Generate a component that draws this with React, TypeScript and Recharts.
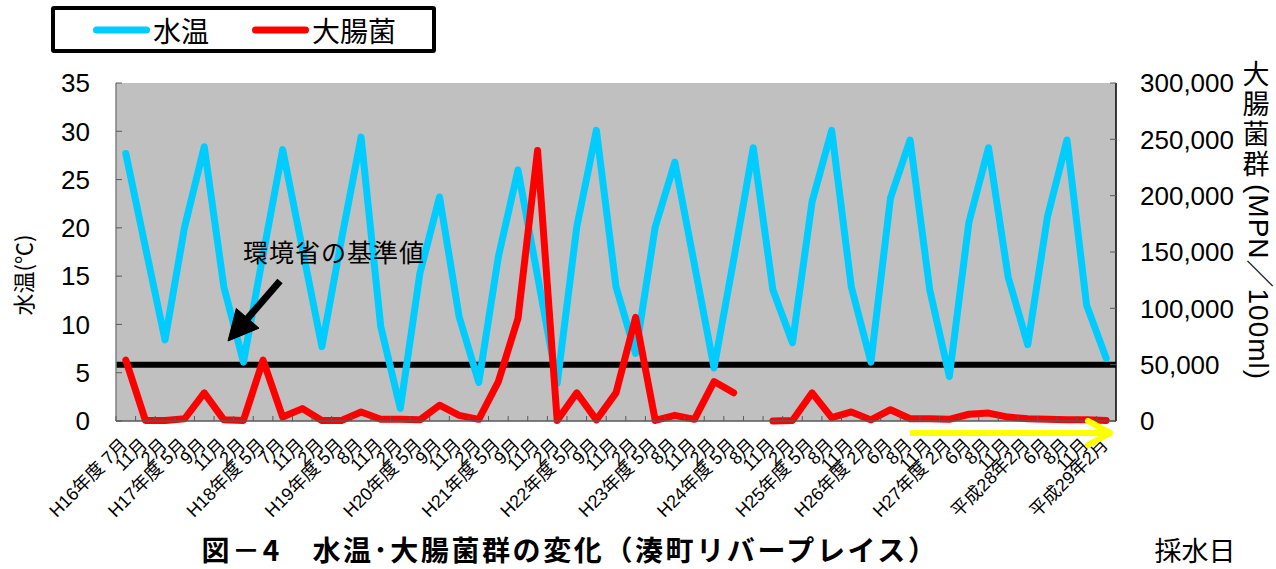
import React from 'react';
import {
  LineChart,
  Line,
  XAxis,
  YAxis,
  CartesianGrid,
  ReferenceLine,
  Legend,
} from 'recharts';

// ---------------- data ----------------
const categories: string[] = [
  'H16年度 7月', '11月', '2月',
  'H17年度 5月', '9月', '11月', '2月',
  'H18年度 5月', '7月', '11月', '2月',
  'H19年度 5月', '8月', '11月', '2月',
  'H20年度 5月', '9月', '11月', '2月',
  'H21年度 5月', '9月', '11月', '2月',
  'H22年度 5月', '9月', '11月', '2月',
  'H23年度 5月', '8月', '11月', '2月',
  'H24年度 5月', '8月', '11月', '2月',
  'H25年度 5月', '8月', '11月',
  'H26年度 2月', '6月', '8月', '11月',
  'H27年度 2月', '6月', '8月', '11月',
  '平成28年2月', '6月', '8月', '11月',
  '平成29年2月',
];

// 水温 (°C)
const waterTemp: number[] = [
  27.7, 18.0, 8.4,
  20.1, 28.4, 13.9, 6.1,
  17.2, 28.1, 17.9, 7.7,
  18.8, 29.4, 9.8, 1.3,
  15.3, 23.2, 10.8, 4.0,
  17.0, 26.0, 15.0, 3.9,
  20.1, 30.1, 13.9, 7.0,
  20.1, 26.8, 16.2, 5.5,
  16.7, 28.3, 13.6, 8.1,
  22.7, 30.1, 13.9,
  6.1, 23.1, 29.1, 13.6,
  4.6, 20.6, 28.3, 14.9,
  7.9, 21.1, 29.1, 12.0,
  6.5,
];

// 大腸菌群 (MPN/100ml)
const coliform: (number | null)[] = [
  54000, 500, 500,
  2000, 25000, 1000, 500,
  54000, 3500, 11000, 500,
  500, 8000, 1500, 1500,
  1000, 14000, 5000, 1500,
  35000, 91000, 240000, 500,
  25000, 1000, 25000, 92000,
  500, 5000, 1500, 35000,
  25000, null, 0, 500,
  25000, 3000, 8000,
  1000, 10000, 2000, 2000,
  1500, 6000, 7000, 3500,
  2000, 1500, 1000, 1000,
  500,
];

const leftTicks: number[] = [0, 5, 10, 15, 20, 25, 30, 35];
const rightTicks: number[] = [0, 50000, 100000, 150000, 200000, 250000, 300000];
const standardValue = 50000; // 環境省の基準値

const seriesOrder = ['temp', 'coli'];
const seriesNames = { temp: '水温', coli: '大腸菌' };

// ---------------- layout ----------------
const W = 1276;
const H = 569;
const PLOT = { left: 116, right: 1116, top: 83, bottom: 421 };
const LEFT_AXIS_W = 80;
const RIGHT_AXIS_W = 140;
const X_AXIS_H = 100;
const margin = {
  top: PLOT.top,
  left: PLOT.left - LEFT_AXIS_W,
  right: W - PLOT.right - RIGHT_AXIS_W,
  bottom: H - PLOT.bottom - X_AXIS_H,
};
const BAND = (PLOT.right - PLOT.left) / categories.length;

const JP = "'Noto Sans CJK JP', sans-serif";
const NUM = "'Liberation Sans', Arial, 'Noto Sans CJK JP', sans-serif";

const data = categories.map((label, i) => ({
  idx: String(i),
  label,
  temp: waterTemp[i],
  coli: coliform[i],
}));

const XTick = (props: any) => {
  const { x, payload } = props;
  const i = Number(payload.value);
  const label = categories[i];
  const bx = x - BAND / 2;
  return (
    <g>
      <line x1={bx} y1={PLOT.bottom} x2={bx} y2={PLOT.bottom - 5} stroke="#595959" strokeWidth={1} />
      <text
        transform={`translate(${x + 3},${PLOT.bottom + 25}) rotate(-45)`}
        textAnchor="end"
        fontSize={18}
        fontFamily={NUM}
        fill="#000"
      >
        {label}
      </text>
    </g>
  );
};

const LegendContent = (props: any) => {
  const payload = [...(props.payload || [])].sort(
    (a: any, b: any) => seriesOrder.indexOf(a.dataKey) - seriesOrder.indexOf(b.dataKey)
  );
  return (
    <div
      style={{
        boxSizing: 'border-box',
        width: 385,
        height: 47,
        border: '4px solid #000',
        borderRadius: 3,
        background: '#fff',
        display: 'flex',
        alignItems: 'center',
        fontFamily: JP,
        fontSize: 28,
        color: '#000',
        lineHeight: 1,
      }}
    >
      {payload.map((entry: any, i: number) => (
        <div key={i} style={{ display: 'flex', alignItems: 'center', marginLeft: i === 0 ? 34 : 39 }}>
          <svg width={64} height={12} style={{ display: 'block' }}>
            <line x1={7.5} y1={6} x2={57.5} y2={6} stroke={entry.color} strokeWidth={7} strokeLinecap="round" />
          </svg>
          <span>{entry.value}</span>
        </div>
      ))}
    </div>
  );
};

const Annotations = () => {
  // black arrow toward the standard line
  const tip = { x: 228, y: 341 };
  const tail = { x: 280, y: 281 };
  const dx = tip.x - tail.x;
  const dy = tip.y - tail.y;
  const len = Math.sqrt(dx * dx + dy * dy);
  const ux = dx / len;
  const uy = dy / len;
  const headLen = 30;
  const headHalf = 15;
  const bx = tip.x - ux * headLen;
  const by = tip.y - uy * headLen;
  const px = -uy;
  const py = ux;
  const c1 = `${bx + px * headHalf},${by + py * headHalf}`;
  const c2 = `${bx - px * headHalf},${by - py * headHalf}`;

  const yArrowY = 433;
  return (
    <svg
      width={W}
      height={H}
      style={{ position: 'absolute', left: 0, top: 0, pointerEvents: 'none' }}
    >
      {/* left axis title */}
      <text
        transform="translate(22,275) rotate(-90)"
        textAnchor="middle"
        dominantBaseline="central"
        fontSize={22}
        fontFamily={JP}
        fill="#000"
      >
        水温(℃)
      </text>
      {/* right axis title (vertical) */}
      <text
        x={1256}
        y={60}
        style={{ writingMode: 'vertical-rl' } as any}
        fontSize={27}
        letterSpacing={3}
        fontFamily={JP}
        fill="#000"
      >
        大腸菌群
      </text>
      <text
        transform="translate(1258,184) rotate(90)"
        textAnchor="start"
        dominantBaseline="central"
        fontSize={28}
        letterSpacing={1}
        fontFamily={NUM}
        fill="#000"
      >
        (MPN／100ml)
      </text>
      {/* annotation */}
      <text x={243} y={251} dominantBaseline="central" fontSize={25} letterSpacing={1} fontFamily={JP} fill="#000">
        環境省の基準値
      </text>
      <line x1={tail.x} y1={tail.y} x2={bx + ux * 2} y2={by + uy * 2} stroke="#000" strokeWidth={7} />
      <polygon points={`${tip.x},${tip.y} ${c1} ${c2}`} fill="#000" stroke="#000" strokeWidth={1} />
      {/* yellow arrow */}
      <line x1={910} y1={yArrowY} x2={1110} y2={yArrowY} stroke="#FFFF00" strokeWidth={6} />
      <line x1={1110} y1={yArrowY} x2={1088} y2={yArrowY - 12} stroke="#FFFF00" strokeWidth={6} strokeLinecap="round" />
      <line x1={1110} y1={yArrowY} x2={1088} y2={yArrowY + 12} stroke="#FFFF00" strokeWidth={6} strokeLinecap="round" />
      {/* title */}
      <text
        x={570}
        y={549}
        textAnchor="middle"
        dominantBaseline="central"
        fontSize={28}
        fontWeight="bold"
        letterSpacing={2.6}
        fontFamily={JP}
        fill="#000"
      >
        図－4　水温･大腸菌群の変化（湊町リバープレイス）
      </text>
      <text x={1195} y={549} textAnchor="middle" dominantBaseline="central" fontSize={27} fontFamily={JP} fill="#000">
        採水日
      </text>
    </svg>
  );
};

export default function App() {
  return (
    <div style={{ position: 'absolute', left: 0, top: 0, width: W, height: H, background: '#fff' }}>
      <LineChart width={W} height={H} data={data} margin={margin}>
        <CartesianGrid yAxisId="left" fill="#C0C0C0" fillOpacity={1} horizontal={false} vertical={false} />
        <XAxis
          dataKey="idx"
          type="category"
          interval={0}
          height={X_AXIS_H}
          padding={{ left: BAND / 2, right: BAND / 2 }}
          tick={<XTick />}
          tickLine={false}
          axisLine={{ stroke: '#595959', strokeWidth: 1.5 }}
        />
        <YAxis
          yAxisId="left"
          orientation="left"
          width={LEFT_AXIS_W}
          domain={[0, 35]}
          ticks={leftTicks}
          interval={0}
          tickSize={-6}
          tickMargin={32}
          axisLine={{ stroke: '#808080', strokeWidth: 1.5 }}
          tickLine={{ stroke: '#595959' }}
          tick={{ fontSize: 26, fill: '#000', fontFamily: NUM }}
        />
        <YAxis
          yAxisId="right"
          orientation="right"
          width={RIGHT_AXIS_W}
          domain={[0, 300000]}
          ticks={rightTicks}
          interval={0}
          tickSize={-6}
          tickMargin={30}
          axisLine={{ stroke: '#000', strokeWidth: 1.5 }}
          tickLine={{ stroke: '#595959' }}
          tick={{ fontSize: 26, fill: '#000', fontFamily: NUM, textAnchor: 'start' }}
          tickFormatter={(v: number) => v.toLocaleString('en-US')}
        />
        <ReferenceLine yAxisId="right" y={standardValue} stroke="#000" strokeWidth={6} />
        <Line
          yAxisId="left"
          type="linear"
          dataKey="temp"
          name={seriesNames.temp}
          stroke="#00CCFF"
          strokeWidth={7}
          strokeLinejoin="round"
          strokeLinecap="round"
          dot={false}
          activeDot={false}
          isAnimationActive={false}
        />
        <Line
          yAxisId="right"
          type="linear"
          dataKey="coli"
          name={seriesNames.coli}
          stroke="#FF0000"
          strokeWidth={7}
          strokeLinejoin="round"
          strokeLinecap="round"
          dot={false}
          activeDot={false}
          connectNulls={false}
          isAnimationActive={false}
        />
        <Legend
          layout="horizontal"
          verticalAlign="middle"
          align="center"
          content={<LegendContent />}
          wrapperStyle={{ position: 'absolute', left: 51, top: 6, width: 385, height: 47 }}
        />
      </LineChart>
      <Annotations />
    </div>
  );
}
